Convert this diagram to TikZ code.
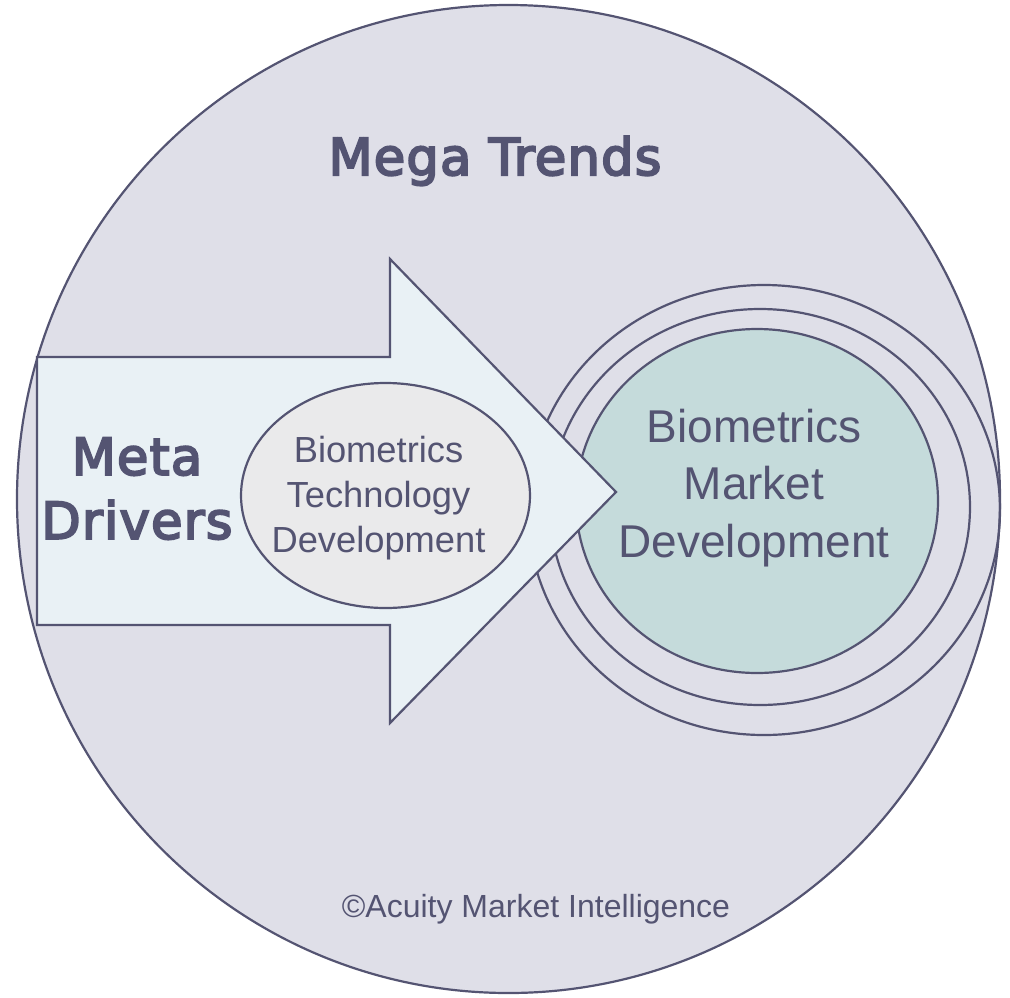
\documentclass[tikz,border=0pt]{standalone}
\usepackage{fontspec}
\setmainfont{Liberation Sans}
\newfontfamily\megafont[FakeBold=4,LetterSpace=2.5]{DejaVu Sans}
\definecolor{inkc}{HTML}{545472}
\definecolor{bigfill}{HTML}{DFDFE8}
\definecolor{arrowfill}{HTML}{E9F1F5}
\definecolor{techfill}{HTML}{EAEAEB}
\definecolor{marketfill}{HTML}{C5DBDB}
\tikzset{
  outline/.style={draw=inkc, line width=2.2pt},
  boldlabel/.style={text=inkc, inner sep=0pt, align=center, font=\megafont\fontsize{51}{64}\selectfont},
  smalllabel/.style={text=inkc, inner sep=0pt, align=center, font=\fontsize{36.3}{45}\selectfont},
  biglabel/.style={text=inkc, inner sep=0pt, align=center, font=\fontsize{46}{57.5}\selectfont},
}
\begin{document}
\begin{tikzpicture}[x=1pt,y=-1pt]
\useasboundingbox (0,0) rectangle (1010,997);
% big circle
\draw[outline, fill=bigfill] (508.5,499) ellipse [x radius=491.5, y radius=494];
% rings
\draw[outline] (764,510) ellipse [x radius=236, y radius=225];
\draw[outline] (760,507) ellipse [x radius=210, y radius=198];
\draw[outline, fill=marketfill] (757,501) ellipse [x radius=181, y radius=172];
% arrow
\draw[outline, fill=arrowfill, line join=miter]
  (37,357) -- (390,357) -- (390,259) -- (616,492) -- (390,723) -- (390,625) -- (37,625) -- cycle;
% technology ellipse
\draw[outline, fill=techfill] (385.5,495.5) ellipse [x radius=144.5, y radius=112.5];
% labels
\node[boldlabel, anchor=base] (mega) at (495,175) {Mega Trends};
\node[boldlabel, anchor=center] (meta) at (137,488.6) {Meta\\Drivers};
\node[smalllabel, anchor=center] (tech) at (378.5,498.3) {Biometrics\\Technology\\Development};
\node[biglabel, anchor=center] (market) at (754,488) {Biometrics\\Market\\Development};
\node[text=inkc, inner sep=0pt, anchor=base, font=\fontsize{32}{38}\selectfont] (copy) at (536,917) {©Acuity Market Intelligence};
\end{tikzpicture}
\end{document}
